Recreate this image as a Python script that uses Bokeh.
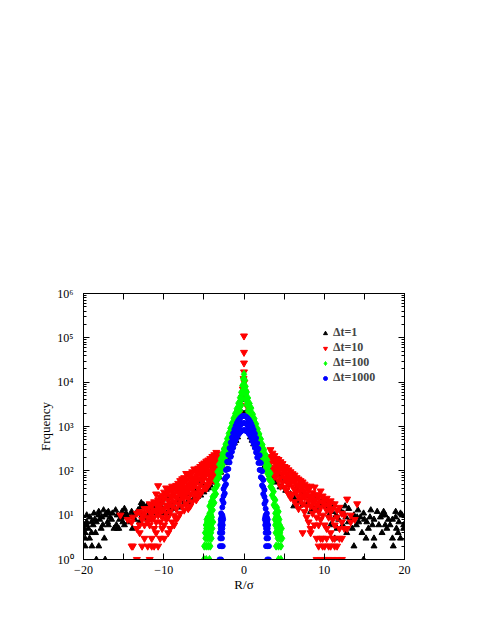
from bokeh.plotting import figure
from bokeh.models import FixedTicker, LinearAxis, LogAxis, CustomJSTickFormatter, Legend, LegendItem
from bokeh.embed import file_html
from bokeh.resources import INLINE

FONT = "Liberation Serif"

# ---------------- data ----------------
series_labels = ["\u0394t=1", "\u0394t=10", "\u0394t=100", "\u0394t=1000"]
x_ticks = [-20, -10, 0, 10, 20]
x_minor = [-15, -5, 5, 15]
y_ticks = [1, 10, 100, 1000, 10000, 100000, 1000000]

# Δt=1 (black triangles)
dt1_pts = [
    (-19.8, 2), (-18.95, 2), (-18.1, 2), (-18.4, 1), (-17.3, 1),
    (-19.8, 3), (-19.25, 3), (-17.4, 3),
    (-19.8, 4), (-19.0, 4), (-18.5, 4),
    (-19.9, 5), (-19.4, 5), (-16.2, 5), (-15.8, 5), (-15.6, 5), (-17.8, 5),
    (-19.6, 6), (-18.8, 6), (-16.9, 6), (-15.9, 6),
    (-19.6, 7), (-19.0, 7), (-18.4, 7), (-18.0, 8), (-17.0, 7), (-15.5, 8), (-15.1, 7), (-16.5, 8), (-14.4, 7),
    (-19.6, 10), (-18.1, 10), (-17.7, 9), (-17.3, 10), (-17.1, 11), (-15.8, 10), (-14.6, 10), (-14.2, 9),
    (-13.8, 10), (-13.35, 11), (-12.7, 10), (-12.3, 9), (-11.9, 10),
    (-19.2, 9), (-18.7, 11), (-18.1, 12), (-17.5, 13), (-16.9, 12), (-16.4, 11), (-16.0, 13), (-15.2, 12),
    (-14.9, 14), (-14.0, 12), (-13.2, 13), (-12.9, 15), (-12.8, 19), (-12.5, 17), (-12.1, 16), (-11.5, 17),
    (-11.2, 14), (-10.8, 16), (-10.4, 17),
    (-15.0, 9), (-14.7, 11), (-13.6, 8), (-12.0, 8), (-13.0, 7), (-16.7, 9), (-18.6, 8), (-19.9, 6),
    (-17.6, 6), (-14.9, 6), (-13.9, 5), (-11.6, 12), (-10.9, 11),
    (-10.6, 12), (-10.0, 11), (-9.6, 11), (-9.2, 13), (-8.6, 14), (-7.9, 15), (-7.5, 18), (-7.0, 20),
    (-6.7, 21), (-6.3, 23), (-5.8, 26), (-5.4, 28), (-5.0, 33), (-4.7, 38), (-4.4, 41), (-4.2, 47),
    (-3.8, 55), (-3.5, 62), (-3.1, 72), (-2.9, 92),
    (-10.2, 22), (-9.5, 25), (-8.8, 30), (-8.2, 35), (-7.6, 40), (-7.0, 45), (-6.4, 55), (-5.8, 60),
    (-5.2, 70), (-4.6, 90), (-4.0, 110), (-3.5, 130), (-9.0, 18), (-8.0, 22), (-6.9, 30), (-6.0, 38),
    (-5.0, 50), (-4.3, 65), (-3.7, 85),
    (-2.6, 120), (-2.3, 150), (-2.0, 180), (-1.7, 230), (-1.43, 340), (-1.2, 420), (-1.0, 480), (-0.8, 575),
    (-0.6, 800), (-0.4, 1200), (-0.2, 2000), (0.0, 1950), (0.0, 4000), (0.2, 2000), (0.4, 1200), (0.6, 800),
    (0.8, 575), (1.0, 485), (1.2, 400), (1.43, 342), (1.7, 260), (2.0, 200), (2.3, 160), (2.6, 130), (2.9, 105),
    (3.2, 80), (3.6, 65), (4.0, 55), (4.5, 43), (5.2, 36), (5.8, 30), (6.2, 25), (6.2, 16), (6.8, 20),
    (7.3, 17), (7.9, 18), (8.3, 12), (8.7, 14), (9.1, 13), (9.7, 21),
    (3.5, 110), (4.2, 85), (5.0, 60), (5.7, 48), (6.5, 40), (7.2, 32), (8.0, 27), (8.8, 22), (9.5, 18), (10.2, 16),
    (10.5, 14), (11.0, 12), (11.5, 10), (12.0, 13), (12.4, 11), (12.7, 9), (13.05, 14), (13.4, 8), (13.7, 10),
    (14.1, 9), (14.5, 9), (14.9, 11), (15.3, 7), (15.7, 9), (16.2, 8), (16.6, 12), (17.0, 9), (17.2, 10),
    (17.6, 10), (18.0, 8), (18.5, 8), (18.9, 9), (19.3, 7), (19.7, 10), (19.9, 6),
    (10.8, 6), (11.6, 5), (12.3, 6), (13.5, 5), (14.0, 6), (14.7, 4), (15.5, 5), (16.2, 3), (16.8, 6),
    (17.2, 4), (17.8, 5), (18.5, 3), (19.0, 5), (19.5, 3), (19.9, 5), (12.8, 4), (13.7, 2), (16.2, 2),
    (18.6, 2), (14.9, 1), (11.3, 3), (15.2, 3), (17.6, 6), (18.2, 6),
    (10.1, 20), (11.2, 17), (12.6, 16), (14.2, 13), (15.8, 13), (17.4, 12), (18.9, 12), (19.5, 11),
    (9.2, 16), (10.6, 10), (11.8, 8), (13.0, 7), (14.3, 7), (15.0, 8), (16.0, 6), (19.2, 4),
]

# Δt=10 (red inverted triangles): the spike at R=0 and core points
dt10_core = [
    (0.0, 110000), (0.0, 47000), (0.0, 27000), (0.0, 17000), (-0.05, 12000), (0.05, 10000),
    (-0.15, 7000), (0.15, 6000), (-0.25, 4500), (0.25, 4000), (-0.4, 3000), (0.4, 2800),
    (-0.6, 2000), (0.6, 1800), (-0.9, 1300), (0.9, 1200), (-1.3, 700), (1.3, 650),
    (-1.8, 450), (1.8, 420), (-2.3, 300), (2.3, 280),
]
# Δt=10 wings: (R/σ, frequencies observed at that R/σ)
dt10_wings = [
    (-3.2, [240, 120, 175, 85, 140]), (-3.45, [200, 105, 150, 75, 260]), (-3.7, [230, 130, 95, 170, 60]),
    (-3.95, [160, 210, 70, 115, 90]), (-4.2, [190, 100, 145, 55, 75]), (-4.45, [130, 175, 62, 95, 48]),
    (-4.7, [165, 85, 120, 50, 40]), (-4.95, [110, 150, 70, 42, 95]), (-5.2, [140, 60, 95, 35, 75]),
    (-5.45, [85, 125, 48, 105, 30]), (-5.7, [115, 65, 40, 90, 26]), (-5.95, [100, 55, 78, 32, 22]),
    (-6.2, [70, 110, 45, 28, 60]), (-6.45, [95, 38, 66, 20, 50]), (-6.7, [58, 85, 30, 45, 16]),
    (-6.95, [80, 50, 24, 36, 14]), (-7.2, [87, 42, 62, 18, 30]), (-7.45, [55, 34, 70, 13, 24]),
    (-7.7, [48, 66, 27, 16, 38]), (-7.95, [60, 22, 40, 11, 30]), (-8.2, [44, 52, 18, 33, 9]),
    (-8.45, [38, 25, 47, 14, 8]), (-8.7, [43, 20, 30, 10, 6]), (-8.95, [35, 45, 16, 25, 7]),
    (-9.2, [28, 40, 12, 19, 5]), (-9.45, [36, 22, 9, 15, 4]), (-9.7, [30, 17, 41, 8, 11]),
    (-9.95, [24, 14, 33, 6, 3]), (-10.2, [20, 28, 9, 13, 5]), (-10.45, [25, 12, 17, 3, 7]),
    (-10.7, [46, 15, 10, 22, 2]), (-10.95, [18, 30, 7, 12, 4]), (-11.2, [13, 20, 5, 9, 2]),
    (-11.5, [16, 8, 11, 3, 2]), (-11.75, [12, 6, 1, 18]), (-12.0, [9, 14, 2, 7]),
    (-12.4, [11, 3, 14, 6]), (-12.7, [8, 2, 10]), (-13.0, [4, 12, 6]), (-13.35, [5, 1, 11]),
    (-13.85, [9, 2]), (-14.0, [7, 2]), (-14.5, [8]), (-15.4, [10]),
    (3.3, [300, 150, 210]), (3.55, [190, 250, 120, 90]), (3.8, [160, 220, 100, 75]),
    (4.05, [135, 190, 80, 110]), (4.3, [180, 95, 140, 60]), (4.55, [120, 160, 70, 45]),
    (4.8, [145, 85, 55, 110]), (5.05, [100, 125, 42, 70]), (5.3, [118, 60, 85, 36]),
    (5.55, [75, 105, 48, 30]), (5.8, [95, 55, 68, 25]), (6.05, [86, 45, 30, 62]),
    (6.3, [58, 80, 38, 20]), (6.55, [70, 33, 50, 17]), (6.8, [48, 65, 26, 14]),
    (7.05, [60, 35, 22, 44]), (7.3, [40, 56, 18, 28, 4]), (7.55, [50, 25, 34, 12]),
    (7.8, [45, 30, 16, 9]), (8.05, [38, 21, 27, 7]), (8.3, [45, 16, 25, 5, 4]),
    (8.55, [32, 19, 11, 26]), (8.8, [43, 22, 14, 6]), (9.05, [29, 17, 9, 3, 1]),
    (9.3, [25, 12, 19, 6, 2]), (9.55, [35, 15, 8, 3, 1]), (9.8, [20, 27, 10, 2, 3]),
    (10.05, [17, 22, 6, 2, 1]), (10.3, [24, 13, 5, 3, 1]), (10.55, [16, 9, 20, 2, 1]),
    (10.8, [21, 12, 4, 2]), (11.05, [14, 8, 3, 1]), (11.3, [18, 6, 2, 3]), (11.6, [13, 9, 2, 1]),
    (11.9, [15, 5, 3]), (12.2, [11, 7, 3, 1]), (12.5, [10, 5]), (12.85, [23, 5]), (13.3, [7, 10]),
    (13.8, [8]), (14.1, [18]),
]

# Δt=100 (green diamonds)
dt100_pts = [
    (-5.0, 1), (-4.7, 1), (-4.3, 1),
    (-4.95, 2), (-4.7, 2), (-4.45, 2), (-4.2, 2),
    (-4.8, 3), (-4.55, 3), (-4.3, 3), (-4.05, 3),
    (-4.85, 4), (-4.6, 4), (-4.35, 4), (-4.1, 4),
    (-4.7, 5), (-4.45, 5), (-4.2, 5), (-3.95, 5),
    (-4.75, 6), (-4.5, 6), (-4.25, 6),
    (-4.6, 7), (-4.35, 7), (-4.1, 7), (-3.85, 7),
    (-4.65, 8), (-4.4, 8), (-4.15, 8),
    (-4.5, 9), (-4.25, 9), (-4.0, 9),
    (-4.3, 16), (-4.3, 11), (-4.1, 20), (-4.1, 14), (-4.1, 10),
    (-3.9, 26), (-3.9, 18), (-3.9, 13), (-3.7, 38), (-3.7, 27), (-3.7, 19),
    (-3.5, 60), (-3.5, 42), (-3.5, 30), (-3.3, 95), (-3.3, 68), (-3.3, 48),
    (-3.1, 140), (-3.1, 100), (-3.1, 72), (-2.9, 185), (-2.9, 130), (-2.9, 95),
    (-2.7, 240), (-2.7, 170), (-2.7, 120), (-2.5, 310), (-2.5, 220), (-2.5, 155),
    (-2.3, 400), (-2.3, 290), (-2.3, 205), (-2.1, 530), (-2.1, 380), (-2.1, 270),
    (-1.9, 700), (-1.9, 500), (-1.9, 355), (-1.7, 910), (-1.7, 650), (-1.7, 465),
    (-1.5, 1190), (-1.5, 850), (-1.5, 610), (-1.3, 1540), (-1.3, 1100), (-1.3, 790),
    (-1.1, 1960), (-1.1, 1400), (-1.1, 1000), (-0.9, 2520), (-0.9, 1800), (-0.9, 1290),
    (-0.7, 3360), (-0.7, 2400), (-0.7, 1710), (-0.5, 4480), (-0.5, 3200), (-0.5, 2290),
    (-0.35, 5880), (-0.35, 4200), (-0.35, 3000), (-0.2, 8400), (-0.2, 6000), (-0.2, 4290),
    (-0.1, 11900), (-0.1, 8500), (-0.1, 6070), (0.0, 15000), (0.0, 12000),
    (0.1, 11000), (0.1, 8000), (0.1, 5800), (0.2, 8000), (0.2, 5700), (0.2, 4100),
    (0.35, 6000), (0.35, 4300), (0.35, 3100), (0.5, 4400), (0.5, 3100), (0.5, 2200),
    (0.7, 3300), (0.7, 2350), (0.7, 1650), (0.9, 2600), (0.9, 1850), (0.9, 1300),
    (1.1, 1900), (1.1, 1350), (1.1, 980), (1.3, 1500), (1.3, 1080), (1.3, 760),
    (1.5, 1150), (1.5, 820), (1.5, 590), (1.7, 880), (1.7, 630), (1.7, 450),
    (1.9, 680), (1.9, 490), (1.9, 350), (2.1, 520), (2.1, 370), (2.1, 265),
    (2.3, 390), (2.3, 280), (2.3, 200), (2.5, 300), (2.5, 210), (2.5, 150),
    (2.7, 230), (2.7, 165), (2.7, 115), (2.9, 175), (2.9, 125), (2.9, 88),
    (3.1, 130), (3.1, 92), (3.1, 65), (3.3, 88), (3.3, 62), (3.3, 44),
    (3.5, 55), (3.5, 40), (3.5, 28), (3.7, 34), (3.7, 24), (3.7, 17),
    (3.9, 22), (3.9, 15), (3.9, 11), (4.1, 15), (4.1, 10), (4.3, 12),
    (4.3, 1), (4.6, 1), (4.0, 2), (4.3, 2), (4.6, 2), (4.2, 3), (4.5, 3), (4.75, 3),
    (3.95, 4), (4.25, 4), (4.5, 4), (4.1, 5), (4.4, 5), (4.7, 5), (3.9, 6), (4.2, 6), (4.45, 6),
    (4.05, 7), (4.3, 7), (3.85, 8), (4.15, 8), (4.4, 8), (4.0, 9), (4.25, 9),
]

# Δt=1000 (blue circles)
dt1000_pts = [
    (-3.05, 1), (-2.85, 1), (-3.0, 2), (-2.8, 2), (-2.65, 2), (-2.95, 3), (-2.75, 3),
    (-3.0, 4), (-2.85, 4), (-2.7, 4), (-2.9, 5), (-2.7, 5), (-2.95, 6), (-2.8, 6), (-2.65, 6),
    (-2.85, 7), (-2.7, 7), (-2.9, 8), (-2.75, 8), (-2.6, 8), (-2.8, 9), (-2.65, 9),
    (-2.85, 11), (-2.7, 22), (-2.7, 15), (-2.7, 10), (-2.55, 39), (-2.55, 27), (-2.55, 19),
    (-2.4, 65), (-2.4, 45), (-2.4, 31), (-2.25, 104), (-2.25, 72), (-2.25, 50),
    (-2.1, 160), (-2.1, 110), (-2.1, 76), (-1.95, 232), (-1.95, 160), (-1.95, 110),
    (-1.8, 326), (-1.8, 225), (-1.8, 155), (-1.65, 435), (-1.65, 300), (-1.65, 207),
    (-1.5, 565), (-1.5, 390), (-1.5, 269), (-1.35, 710), (-1.35, 490), (-1.35, 338),
    (-1.2, 870), (-1.2, 600), (-1.2, 414), (-1.05, 1030), (-1.05, 710), (-1.05, 490),
    (-0.9, 1190), (-0.9, 820), (-0.9, 565), (-0.75, 1330), (-0.75, 920), (-0.75, 634),
    (-0.6, 1465), (-0.6, 1010), (-0.6, 697), (-0.45, 1580), (-0.45, 1090), (-0.45, 752),
    (-0.3, 1670), (-0.3, 1150), (-0.3, 793), (-0.15, 1725), (-0.15, 1190), (-0.15, 820),
    (0.0, 1740), (0.0, 1200), (0.0, 828),
    (0.15, 1700), (0.15, 1180), (0.15, 830), (0.3, 1650), (0.3, 1140), (0.3, 780),
    (0.45, 1560), (0.45, 1070), (0.45, 760), (0.6, 1440), (0.6, 1000), (0.6, 690),
    (0.75, 1310), (0.75, 900), (0.75, 640), (0.9, 1160), (0.9, 800), (0.9, 560),
    (1.05, 1000), (1.05, 700), (1.05, 480), (1.2, 850), (1.2, 580), (1.2, 410),
    (1.35, 690), (1.35, 480), (1.35, 330), (1.5, 550), (1.5, 380), (1.5, 260),
    (1.65, 420), (1.65, 290), (1.65, 200), (1.8, 315), (1.8, 215), (1.8, 150),
    (1.95, 225), (1.95, 155), (1.95, 105), (2.1, 150), (2.1, 105), (2.1, 72),
    (2.25, 98), (2.25, 68), (2.25, 47), (2.4, 62), (2.4, 43), (2.4, 30),
    (2.55, 37), (2.55, 26), (2.55, 18), (2.7, 21), (2.7, 14), (2.7, 10), (2.85, 11),
    (2.9, 1), (3.1, 1), (2.75, 2), (2.95, 2), (3.1, 2), (2.8, 3), (3.0, 3), (2.7, 4), (2.9, 4), (3.05, 4),
    (2.75, 5), (2.95, 5), (2.65, 6), (2.85, 6), (3.0, 6), (2.7, 7), (2.9, 7), (2.6, 8), (2.8, 8), (2.95, 8),
    (2.65, 9), (2.85, 9),
]

dt1_x = [p[0] for p in dt1_pts]
dt1_y = [p[1] for p in dt1_pts]
dt10_x = [p[0] for p in dt10_core] + [x for x, ys in dt10_wings for _ in ys]
dt10_y = [p[1] for p in dt10_core] + [y for _, ys in dt10_wings for y in ys]
dt100_x = [p[0] for p in dt100_pts]
dt100_y = [p[1] for p in dt100_pts]
dt1000_x = [p[0] for p in dt1000_pts]
dt1000_y = [p[1] for p in dt1000_pts]

# ---------------- figure ----------------
p = figure(width=472, height=616, x_range=(-20, 20), y_range=(1, 1e6), y_axis_type="log",
           output_backend="svg", toolbar_location=None,
           min_border_left=83, min_border_right=68, min_border_top=293, min_border_bottom=57)
p.xgrid.visible = False
p.ygrid.visible = False
p.outline_line_color = "black"
p.background_fill_color = "white"
p.border_fill_color = "white"

y_minor = [m * t for t in y_ticks[:-1] for m in range(2, 10)]
xt = FixedTicker(ticks=x_ticks, minor_ticks=x_minor)
yt = FixedTicker(ticks=y_ticks, minor_ticks=y_minor)

xfmt = CustomJSTickFormatter(code="return tick < 0 ? '\u2212' + Math.abs(tick) : String(tick);")
yfmt = CustomJSTickFormatter(code="const s = '\u2070\u00b9\u00b2\u00b3\u2074\u2075\u2076\u2077\u2078\u2079'; return '10' + s[Math.round(Math.log10(tick))];")


def style(ax, minor_len):
    ax.axis_line_color = "black"
    ax.axis_line_width = 1
    ax.major_tick_in = 6
    ax.major_tick_out = 0
    ax.minor_tick_in = minor_len
    ax.minor_tick_out = 0
    ax.major_tick_line_color = "black"
    ax.minor_tick_line_color = "black"
    ax.major_label_text_font = FONT
    ax.major_label_text_font_size = "12px"
    ax.major_label_text_color = "black"
    ax.axis_label_text_color = "black"


xa = p.below[0]
xa.ticker = xt
xa.formatter = xfmt
style(xa, 6)
xa.major_label_standoff = 6
xa.axis_label = "R/\u03c3"
xa.axis_label_text_font = FONT
xa.axis_label_text_font_style = "normal"
xa.axis_label_text_font_size = "13px"
xa.axis_label_standoff = 0

ya = p.left[0]
ya.ticker = yt
ya.formatter = yfmt
style(ya, 3)
ya.major_label_standoff = 10
ya.axis_label = "Frquency"
ya.axis_label_text_font = FONT
ya.axis_label_text_font_style = "normal"
ya.axis_label_text_font_size = "13px"
ya.axis_label_standoff = 1

blank = CustomJSTickFormatter(code="return '';")
top = LinearAxis(ticker=xt, formatter=blank)
style(top, 6)
p.add_layout(top, "above")
right = LogAxis(ticker=yt, formatter=blank)
style(right, 3)
p.add_layout(right, "right")

r1 = p.scatter(dt1_x, dt1_y, marker="triangle", size=6, color="black")
r2 = p.scatter(dt10_x, dt10_y, marker="inverted_triangle", size=7, color="#ff0000")
r3 = p.scatter(dt100_x, dt100_y, marker="diamond", size=8, color="#00ff00")
r4 = p.scatter(dt1000_x, dt1000_y, marker="circle", size=5, color="#0000ff")

legend = Legend(items=[LegendItem(label=series_labels[0], renderers=[r1]),
                       LegendItem(label=series_labels[1], renderers=[r2]),
                       LegendItem(label=series_labels[2], renderers=[r3]),
                       LegendItem(label=series_labels[3], renderers=[r4])],
                location=(237, 174), orientation="vertical",
                background_fill_alpha=0, border_line_color=None,
                padding=0, margin=0, spacing=0, glyph_width=10, glyph_height=14,
                label_height=14, label_standoff=3,
                label_text_font=FONT, label_text_font_style="bold", label_text_font_size="12px")
p.add_layout(legend)

open("out.html", "w").write(file_html(p, INLINE))
